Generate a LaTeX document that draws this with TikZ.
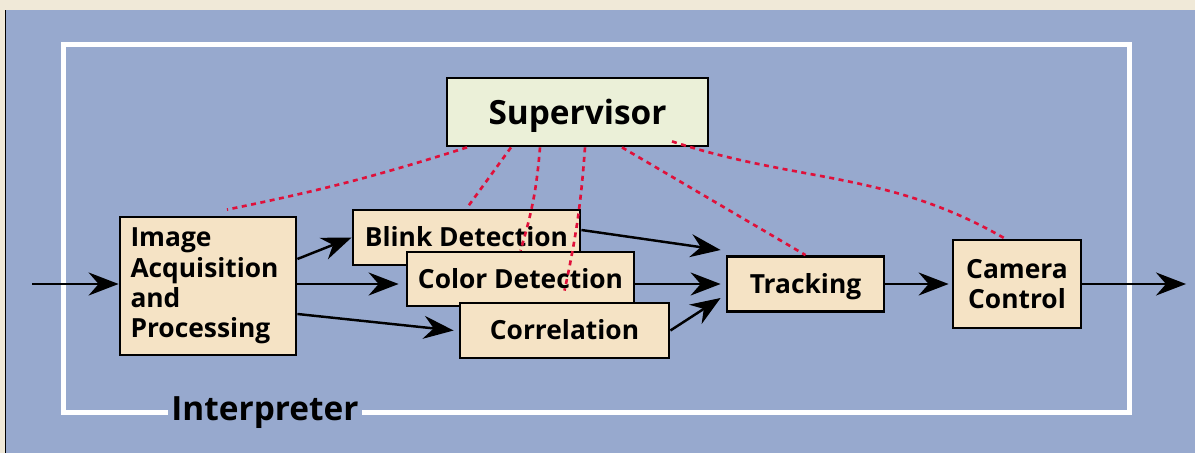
\documentclass[tikz,border=0pt]{standalone}
\usepackage{fontspec}
\setmainfont{Open Sans}
\usetikzlibrary{arrows.meta,positioning,calc}
\definecolor{pagetan}{HTML}{F0E9D8}
\definecolor{panelblue}{HTML}{97A9CE}
\definecolor{boxtan}{HTML}{F5E3C5}
\definecolor{suplight}{HTML}{EBF0D8}
\definecolor{ctrlred}{HTML}{E0103A}
\tikzset{
  blk/.style={draw, line width=1.6pt, fill=boxtan, align=center, inner sep=0pt,
              font=\fontsize{15}{17.2}\selectfont\bfseries},
  oneline/.style={text height=13.8pt, text depth=3.3pt},
  supbox/.style={draw, line width=1.6pt, fill=suplight, align=center, inner sep=0pt,
                 font=\fontsize{19}{22}\selectfont\bfseries,
                 text height=17.8pt, text depth=4pt},
  flow/.style={-{Stealth[length=6mm,width=4.6mm,inset=2mm]}, line width=1.4pt},
  ctrl/.style={draw=ctrlred, line width=1.5pt, dash pattern=on 1mm off 0.9mm}
}

\begin{document}
\begin{tikzpicture}[x=1cm,y=1cm]
  \useasboundingbox (0,0) rectangle (23.9,9.06);
  % page and panel
  \fill[pagetan] (0,0) rectangle (23.9,9.06);
  \fill[panelblue] (0.12,0) rectangle (23.9,8.86);
  \draw[line width=0.04cm] (0.11,0) -- (0.11,8.86);

  % interpreter frame
  \draw[white, line width=0.1cm] (1.27,0.82) rectangle (22.59,8.17);
  \node[fill=panelblue, inner xsep=2pt, inner ysep=1pt,
        font=\fontsize{19}{22}\selectfont\bfseries] (interp) at (5.3,0.8) {Interpreter};

  % modules
  \node[supbox, minimum width=5.22cm, minimum height=1.36cm] (sup) at (11.55,6.82) {Supervisor};
  \node[blk, minimum width=3.52cm, minimum height=2.76cm, text width=3.1cm, align=left]
    (img) at (4.16,3.34) {Image\\Acquisition\\and\\Processing};
  \node[blk, oneline, minimum width=4.54cm, minimum height=1.10cm] (blink) at (9.33,4.31) {Blink Detection};
  \node[blk, oneline, minimum width=4.54cm, minimum height=1.08cm] (color) at (10.41,3.48) {Color Detection};
  \node[blk, oneline, minimum width=4.18cm, minimum height=1.10cm] (corr) at (11.29,2.45) {Correlation};
  \node[blk, oneline, minimum width=3.14cm, minimum height=1.10cm] (track) at (16.11,3.38) {Tracking};
  \node[blk, minimum width=2.56cm, minimum height=1.76cm] (cam) at (20.34,3.38) {Camera\\Control};

  \coordinate (src) at (0.64,3.38);
  \coordinate (dst) at (23.72,3.38);

  % data flow
  \draw[flow] (src) -- (src -| img.west);
  \draw[flow] ([yshift=0.54cm]img.east) -- (blink.west);
  \draw[flow] (src -| img.east) -- ($(src -| color.west)+(-0.14,0)$);
  \draw[flow] ([yshift=-0.56cm]img.east) -- ([xshift=-0.1cm]corr.west);
  \draw[flow] ([yshift=0.15cm]blink.east) -- ([xshift=-0.1cm,yshift=0.68cm]track.west);
  \draw[flow] (track.west -| color.east) -- ([xshift=-0.1cm]track.west);
  \draw[flow] (corr.east) -- ([xshift=-0.1cm,yshift=-0.28cm]track.west);
  \draw[flow] (track.east) -- ([xshift=-0.06cm]cam.west);
  \draw[flow] (cam.east) -- (dst);

  % supervisor control links
  \draw[ctrl] ([xshift=-2.21cm]sup.south) to[bend left=3] ([xshift=0.38cm,yshift=0.12cm]img.north);
  \draw[ctrl] ([xshift=-1.33cm]sup.south) -- (blink.north);
  \draw[ctrl] ([xshift=-0.75cm]sup.south) to[bend left=6] (color.north);
  \draw[ctrl] ([xshift=0.15cm]sup.south) to[bend left=4] ([yshift=0.22cm]corr.north);
  \draw[ctrl] ([xshift=0.89cm]sup.south) -- (track.north);
  \draw[ctrl] ([xshift=1.89cm,yshift=0.12cm]sup.south) to[out=-18,in=150] ([xshift=-0.24cm]cam.north);
\end{tikzpicture}
\end{document}
